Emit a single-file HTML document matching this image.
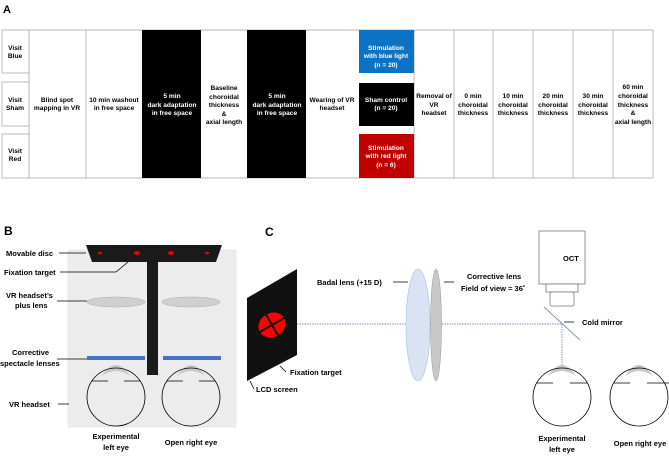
<!DOCTYPE html>
<html><head><meta charset="utf-8"><style>
body{margin:0;background:#fff}
svg{display:block}
.t{font-family:"Liberation Sans",Arial,sans-serif;font-weight:bold;font-size:6.6px;text-anchor:middle}
.l{font-family:"Liberation Sans",sans-serif;font-weight:bold;font-size:7.5px}
</style></head><body>
<svg width="669" height="456" viewBox="0 0 669 456" xmlns="http://www.w3.org/2000/svg">
<text x="3" y="13" font-family="Liberation Sans" font-weight="bold" font-size="11">A</text>
<g stroke="#aaa" stroke-width="0.8" fill="#fff">
<rect x="29" y="30" width="624" height="148"/>
<rect x="2" y="30" width="27" height="43"/>
<rect x="2" y="82" width="27" height="44"/>
<rect x="2" y="134" width="27" height="44"/>
<line x1="86" y1="30" x2="86" y2="178"/>
<line x1="414" y1="30" x2="414" y2="178"/>
<line x1="454" y1="30" x2="454" y2="178"/>
<line x1="493" y1="30" x2="493" y2="178"/>
<line x1="533" y1="30" x2="533" y2="178"/>
<line x1="573" y1="30" x2="573" y2="178"/>
<line x1="613" y1="30" x2="613" y2="178"/>
</g>
<rect x="142" y="30" width="59" height="148" fill="#000"/>
<rect x="247" y="30" width="59" height="148" fill="#000"/>
<rect x="359" y="30" width="55" height="43" fill="#0b72c4"/>
<rect x="359" y="83" width="55" height="43" fill="#000"/>
<rect x="359" y="134" width="55" height="44" fill="#c00000"/>
<g class="t" fill="#000">
<text x="15" y="50">Visit</text><text x="15" y="58">Blue</text>
<text x="15" y="102">Visit</text><text x="15" y="110">Sham</text>
<text x="15" y="153">Visit</text><text x="15" y="161">Red</text>
<text x="57" y="102">Blind spot</text><text x="57" y="110">mapping in VR</text>
<text x="114" y="102">10 min washout</text><text x="114" y="110">in free space</text>
<text x="224" y="90">Baseline</text><text x="224" y="99">choroidal</text><text x="224" y="107">thickness</text><text x="224" y="116">&amp;</text><text x="224" y="124">axial length</text>
<text x="332" y="102">Wearing of VR</text><text x="332" y="110">headset</text>
<text x="434" y="98">Removal of</text><text x="434" y="107">VR</text><text x="434" y="115">headset</text>
<text x="473" y="98">0 min</text><text x="473" y="107">choroidal</text><text x="473" y="115">thickness</text>
<text x="513" y="98">10 min</text><text x="513" y="107">choroidal</text><text x="513" y="115">thickness</text>
<text x="553" y="98">20 min</text><text x="553" y="107">choroidal</text><text x="553" y="115">thickness</text>
<text x="593" y="98">30 min</text><text x="593" y="107">choroidal</text><text x="593" y="115">thickness</text>
<text x="633" y="89">60 min</text><text x="633" y="98">choroidal</text><text x="633" y="107">thickness</text><text x="633" y="115">&amp;</text><text x="633" y="124">axial length</text>
</g>
<g class="t" fill="#fff">
<text x="172" y="98">5 min</text><text x="172" y="107">dark adaptation</text><text x="172" y="115">in free space</text>
<text x="277" y="98">5 min</text><text x="277" y="107">dark adaptation</text><text x="277" y="115">in free space</text>
<text x="386" y="50">Stimulation</text><text x="386" y="58">with blue light</text><text x="386" y="67">(n = 20)</text>
<text x="386" y="102">Sham control</text><text x="386" y="110">(n = 20)</text>
<text x="386" y="150">Stimulation</text><text x="386" y="158">with red light</text><text x="386" y="167">(n = 6)</text>
</g>

<!-- B -->
<text x="4" y="235" font-family="Liberation Sans" font-weight="bold" font-size="12">B</text>
<rect x="68" y="250" width="168" height="177" fill="#ececec" stroke="#ddd" stroke-width="0.5"/>
<polygon points="86,245 222,245 216,262 92,262" fill="#1a1a1a"/>
<rect x="147" y="260" width="11" height="115" fill="#1a1a1a"/>
<g fill="#e00"><ellipse cx="100" cy="253" rx="2" ry="1.3"/><ellipse cx="137" cy="253" rx="3" ry="2"/><ellipse cx="171" cy="253" rx="3" ry="2"/><ellipse cx="207" cy="253" rx="2" ry="1.3"/></g>
<g fill="#d0d0d0" stroke="#aaa" stroke-width="0.5"><ellipse cx="116" cy="302" rx="29" ry="5"/><ellipse cx="191" cy="302" rx="29" ry="5"/></g>
<g fill="#4472c4"><rect x="87" y="356" width="58" height="4"/><rect x="163" y="356" width="58" height="4"/></g>
<g fill="#c8c8c8"><path d="M102 376Q116 354 130 376Q116 366 102 376z"/><path d="M177 376Q191 354 205 376Q191 366 177 376z"/></g>
<g fill="none" stroke="#000" stroke-width="0.8">
<circle cx="116" cy="397" r="29"/><circle cx="191" cy="397" r="29"/>
<path d="M92 381h16M124 381h16M167 381h16M199 381h16"/>
<path d="M59 253h27M60 272h56l12-10M57 301h30M57 359h30M58 404h11"/>
</g>
<g class="l">
<text x="6" y="256">Movable disc</text>
<text x="4" y="275">Fixation target</text>
<text x="6" y="298">VR headset’s</text><text x="15" y="308">plus lens</text>
<text x="12" y="355">Corrective</text><text x="0" y="366">spectacle lenses</text>
<text x="9" y="407">VR headset</text>
<text x="116" y="439" text-anchor="middle">Experimental</text><text x="116" y="450" text-anchor="middle">left eye</text>
<text x="191" y="445" text-anchor="middle">Open right eye</text>
</g>

<!-- C -->
<text x="265" y="236" font-family="Liberation Sans" font-weight="bold" font-size="12">C</text>
<polygon points="247,298 297,269 297,355 247,381" fill="#111"/>
<g transform="translate(272,325) rotate(-30)"><ellipse rx="14" ry="12" fill="#f00"/><path d="M-15 0h30M0 -13v26" stroke="#111" stroke-width="2"/></g>
<line x1="297" y1="324" x2="562" y2="324" stroke="#4472c4" stroke-width="0.7" stroke-dasharray="1.5,1"/>
<line x1="562" y1="324" x2="562" y2="366" stroke="#4472c4" stroke-width="0.7" stroke-dasharray="1.5,1"/>
<ellipse cx="418" cy="325" rx="12" ry="56" fill="#dae3f3" stroke="#9dc3e6" stroke-width="0.6"/>
<ellipse cx="436" cy="325" rx="5.5" ry="56" fill="#c8c8c8" stroke="#999" stroke-width="0.5"/>
<rect x="539" y="231" width="46" height="53" fill="#fff" stroke="#777" stroke-width="0.8"/>
<rect x="546" y="284" width="32" height="8" fill="#fff" stroke="#777" stroke-width="0.8"/>
<rect x="550" y="292" width="24" height="14" rx="2" fill="#fff" stroke="#777" stroke-width="0.8"/>
<line x1="544" y1="307" x2="580" y2="340" stroke="#8497b0" stroke-width="1"/>
<g fill="#c8c8c8"><path d="M548 376Q562 354 576 376Q562 366 548 376z"/><path d="M625 376Q639 354 653 376Q639 366 625 376z"/></g>
<g fill="none" stroke="#000" stroke-width="0.8">
<circle cx="562" cy="397" r="29"/><circle cx="639" cy="397" r="29"/>
<path d="M537 383h16M570 383h17M614 383h16M647 383h22"/>
<path d="M393 282h15M444 282h10M564 322h10M280 366l6 6M250 381l4 8"/>
</g>
<g class="l">
<text x="317" y="285">Badal lens (+15 D)</text>
<text x="467" y="279">Corrective lens</text><text x="461" y="291">Field of view = 36˚</text>
<text x="563" y="261">OCT</text>
<text x="582" y="325">Cold mirror</text>
<text x="290" y="375">Fixation target</text>
<text x="256" y="392">LCD screen</text>
<text x="562" y="441" text-anchor="middle">Experimental</text><text x="562" y="452" text-anchor="middle">left eye</text>
<text x="640" y="446" text-anchor="middle">Open right eye</text>
</g>
</svg>
</body></html>
